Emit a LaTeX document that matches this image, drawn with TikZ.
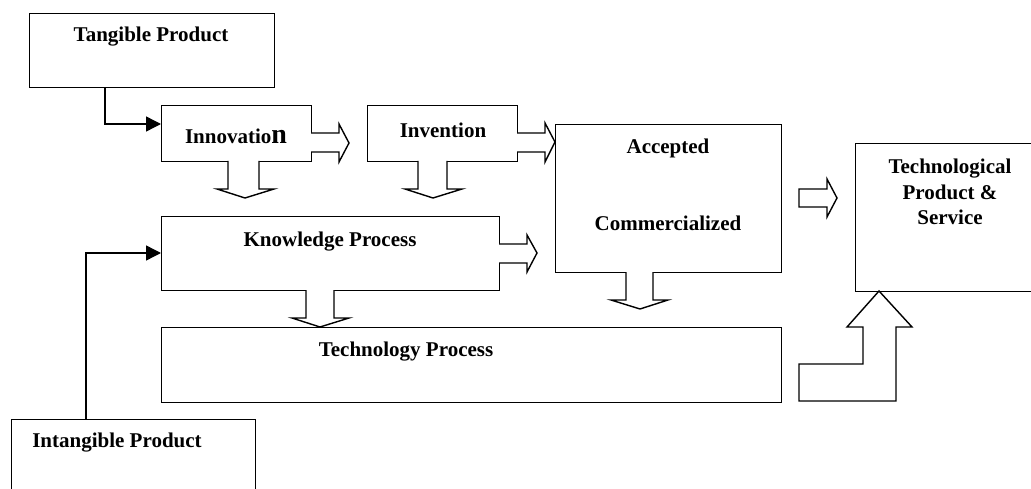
\documentclass[tikz,border=0pt]{standalone}
\usepackage{fontspec}
\setmainfont{Liberation Serif}
\usetikzlibrary{arrows.meta,calc}
\begin{document}
\begin{tikzpicture}[x=1pt,y=-1pt,
  box/.style={draw,line width=1.4pt,anchor=north west,inner sep=0pt},
  txt/.style={font=\fontsize{21}{25.5}\selectfont\bfseries,inner sep=0pt,align=center},
  conn/.style={line width=1.4pt,-{Triangle[length=15pt,width=15pt]}},
  barrow/.style={draw,line width=1.4pt,fill=white,line join=miter}]
\clip (0,0) rectangle (1031,489);
\useasboundingbox (0,0) rectangle (1031,489);
% boxes
\node[box,minimum width=245pt,minimum height=74pt] (tang) at (29,13) {};
\node[txt] (tangT) at (151,37) {Tangible Product};
\node[box,minimum width=150pt,minimum height=56pt] (innov) at (161,105) {};
\node[txt] (innovT) at (236,136) {Innovatio{\fontsize{28}{28}\selectfont n}};
\node[box,minimum width=150pt,minimum height=56pt] (inven) at (367,105) {};
\node[txt] (invenT) at (443,130) {Invention};
\node[box,minimum width=226pt,minimum height=148pt] (acc) at (555,124) {};
\node[txt] (accT1) at (668,148) {Accepted};
\node[txt] (accT2) at (668,223) {Commercialized};
\node[box,minimum width=185pt,minimum height=148pt] (tps) at (855,143) {};
\node[txt] (tpsT) at (950,192) {Technological\\Product \&\\Service};
\node[box,minimum width=338pt,minimum height=74pt] (know) at (161,216) {};
\node[txt] (knowT) at (330,242) {Knowledge Process};
\node[box,minimum width=620pt,minimum height=75pt] (techp) at (161,327) {};
\node[txt] (techpT) at (406,352) {Technology Process};
\node[box,minimum width=244pt,minimum height=90pt] (intang) at (11,419) {};
\node[txt] (intangT) at (117,443) {Intangible Product};
% line connectors
\draw[conn] (tang.south west -| 105,0) -- (105,124) -- (innov.west |- 0,124);
\draw[conn] (intang.north west -| 86,0) -- (86,253) -- (know.west |- 0,253);
% block arrows right
\draw[barrow] (311,133) -- (339,133) -- (339,124) -- (349,143) -- (339,162) -- (339,152) -- (311,152);
\draw[barrow] (517,133) -- (545,133) -- (545,123) -- (555,142) -- (545,162) -- (545,152) -- (517,152);
\draw[barrow] (499,244) -- (527,244) -- (527,235) -- (537,253) -- (527,272) -- (527,263) -- (499,263);
\draw[barrow] (799,189) -- (827,189) -- (827,179) -- (837,198) -- (827,217) -- (827,207) -- (799,207) -- cycle;
% block arrows down
\draw[barrow] (228,161) -- (228,189) -- (217,189) -- (245,198) -- (274,189) -- (259,189) -- (259,161);
\draw[barrow] (418,161) -- (418,189) -- (405,189) -- (433,198) -- (462,189) -- (447,189) -- (447,161);
\draw[barrow] (306,290) -- (306,318) -- (292,318) -- (320,327) -- (349,318) -- (334,318) -- (334,290);
\draw[barrow] (626,272) -- (626,300) -- (611,300) -- (640,309) -- (668,300) -- (653,300) -- (653,272);
% bent up arrow
\draw[barrow] (799,401) -- (799,364) -- (863,364) -- (863,327) -- (847,327) -- (879,291) -- (912,327) -- (896,327) -- (896,401) -- cycle;
\end{tikzpicture}
\end{document}
